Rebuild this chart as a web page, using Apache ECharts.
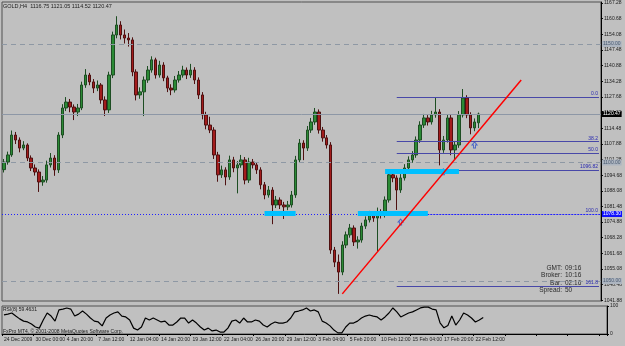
<!DOCTYPE html>
<html>
<head>
<meta charset="utf-8">
<script src="https://cdn.jsdelivr.net/npm/echarts@6/dist/echarts.min.js"></script>
<style>
html,body{margin:0;padding:0;background:#c0c0c0;}
#main{width:625px;height:346px;}
</style>
</head>
<body>
<div id="main"></div>
<script>
// GOLD H4 - candles, levels and RSI(8)
var tickLabels = ['24 Dec 2009','30 Dec 00:00','4 Jan 20:00','7 Jan 12:00','12 Jan 04:00','14 Jan 20:00',
    '19 Jan 12:00','22 Jan 04:00','26 Jan 20:00','29 Jan 12:00','3 Feb 04:00','5 Feb 20:00',
    '10 Feb 12:00','15 Feb 04:00','17 Feb 20:00','22 Feb 12:00'];
var priceTicks = [1041.88,1048.48,1055.08,1061.68,1068.28,1074.88,1081.48,1088.08,1094.68,1101.28,
    1107.88,1114.48,1121.08,1127.68,1134.28,1140.88,1147.48,1154.08,1160.68,1167.28];

var opens = [1097.0,1100.2,1103.2,1111.6,1109.5,1106.1,1107.4,1101.9,1097.7,1096.0,
    1091.8,1092.6,1099.0,1101.9,1096.9,1111.6,1123.0,1125.5,1123.4,1121.3,
    1123.0,1132.7,1136.9,1134.0,1131.4,1132.7,1126.4,1122.2,1136.9,1153.8,
    1158.0,1153.8,1152.5,1151.7,1138.2,1128.5,1129.8,1134.8,1139.0,1143.3,
    1136.9,1141.1,1135.7,1131.4,1130.6,1134.8,1136.9,1139.0,1136.9,1139.0,
    1134.8,1128.5,1120.1,1115.8,1113.7,1103.2,1094.8,1096.9,1093.9,1101.1,
    1097.7,1099.0,1101.1,1092.6,1100.2,1099.0,1096.9,1090.6,1086.3,1088.4,
    1082.1,1084.2,1082.1,1081.3,1082.1,1086.3,1101.1,1108.2,1106.1,1113.7,
    1117.1,1121.3,1113.7,1110.4,1107.4,1063.1,1058.0,1053.8,1065.2,1069.5,
    1072.4,1066.5,1067.3,1073.2,1075.8,1077.9,1076.6,1079.2,1077.9,1084.2,
    1094.8,1093.5,1088.4,1093.5,1097.7,1101.1,1103.2,1109.5,1115.8,1118.8,
    1117.1,1120.1,1121.3,1105.3,1109.5,1118.8,1105.3,1107.4,1120.1,1127.2,
    1120.1,1114.6,1116.75];
var closes = [1100.2,1103.2,1111.6,1109.5,1106.1,1107.4,1101.9,1097.7,1096.0,1091.8,
    1092.6,1099.0,1101.9,1096.9,1111.6,1123.0,1125.5,1123.4,1121.3,1123.0,
    1132.7,1136.9,1134.0,1131.4,1132.7,1126.4,1122.2,1136.9,1153.8,1158.0,
    1153.8,1152.5,1151.7,1138.2,1128.5,1129.8,1134.8,1139.0,1143.3,1136.9,
    1141.1,1135.7,1131.4,1130.6,1134.8,1136.9,1139.0,1136.9,1139.0,1134.8,
    1128.5,1120.1,1115.8,1113.7,1103.2,1094.8,1096.9,1093.9,1101.1,1097.7,
    1099.0,1101.1,1092.6,1100.2,1099.0,1096.9,1090.6,1086.3,1088.4,1082.1,
    1084.2,1082.1,1081.3,1082.1,1086.3,1101.1,1108.2,1106.1,1113.7,1117.1,
    1121.3,1113.7,1110.4,1107.4,1063.1,1058.0,1053.8,1065.2,1069.5,1072.4,
    1066.5,1067.3,1073.2,1075.8,1077.9,1076.6,1079.2,1077.9,1084.2,1094.8,
    1093.5,1088.4,1093.5,1097.7,1101.1,1103.2,1109.5,1115.8,1118.8,1117.1,
    1120.1,1121.3,1105.3,1109.5,1118.8,1105.3,1107.4,1120.1,1127.2,1120.1,
    1114.6,1117.1,1120.47];
var highs = [1101.5,1104.6,1113.5,1112.9,1110.6,1109.0,1108.1,1103.0,1099.2,1097.1,
    1094.3,1100.8,1104.0,1103.1,1112.8,1124.6,1127.6,1126.8,1124.5,1124.7,
    1134.1,1139.4,1137.8,1135.2,1134.6,1133.5,1127.9,1138.3,1155.2,1161.7,
    1159.6,1156.1,1154.6,1152.8,1139.3,1131.7,1136.3,1140.7,1144.8,1144.2,
    1142.9,1142.3,1136.6,1133.0,1136.5,1138.6,1140.8,1140.1,1141.6,1140.2,
    1135.9,1129.7,1121.4,1119.3,1114.9,1104.5,1098.7,1098.0,1102.9,1102.4,
    1100.6,1103.2,1102.3,1102.0,1101.5,1100.1,1098.0,1091.8,1090.1,1089.6,
    1085.9,1085.3,1083.4,1083.8,1088.0,1102.8,1109.9,1109.4,1115.4,1118.8,
    1123.0,1122.4,1115.0,1111.6,1108.6,1064.4,1061.2,1066.8,1070.9,1074.1,
    1073.5,1068.9,1074.6,1077.3,1079.6,1079.1,1081.0,1080.3,1085.7,1096.4,
    1096.0,1094.6,1095.1,1099.3,1102.6,1104.8,1111.0,1117.4,1120.5,1120.0,
    1121.8,1127.4,1122.5,1111.2,1120.3,1120.0,1109.1,1121.7,1131.0,1128.4,
    1121.2,1118.6,1121.05];
var lows = [1095.8,1099.1,1102.4,1107.8,1104.3,1105.2,1100.6,1096.4,1094.5,1087.6,
    1090.2,1091.5,1097.9,1094.4,1095.6,1110.3,1121.7,1121.2,1117.9,1119.6,
    1122.1,1131.5,1132.6,1129.3,1130.1,1124.8,1119.6,1120.9,1135.6,1152.4,
    1151.9,1150.2,1148.9,1136.4,1126.2,1126.9,1119.6,1133.6,1137.9,1135.4,
    1135.8,1134.3,1129.7,1128.4,1129.5,1133.7,1135.8,1135.2,1135.7,1133.1,
    1126.8,1118.2,1114.0,1112.4,1101.5,1091.9,1093.5,1090.4,1092.7,1095.9,
    1087.0,1097.8,1090.8,1091.4,1097.5,1095.2,1088.7,1084.5,1085.2,1074.0,
    1080.8,1080.4,1076.2,1079.9,1081.0,1085.1,1099.8,1101.0,1104.9,1112.5,
    1115.9,1112.2,1108.8,1105.9,1061.5,1055.9,1044.6,1052.5,1063.9,1068.3,
    1064.8,1063.7,1066.2,1072.0,1074.7,1075.0,1062.5,1076.4,1076.8,1083.1,
    1091.7,1080.0,1087.2,1092.4,1096.5,1099.9,1102.0,1108.3,1114.6,1115.6,
    1116.0,1118.9,1098.8,1104.1,1108.4,1103.1,1101.5,1106.2,1119.0,1118.7,
    1111.9,1113.2,1114.52];
var rsi = [68,71,75,64,54,46,43,36,25,21,
    50,75,64,46,86,89,93,89,64,71,
    82,71,57,46,43,29,57,68,75,79,
    64,61,50,21,14,25,57,50,57,50,
    43,46,32,32,43,57,57,39,50,39,
    25,14,21,11,14,7,7,21,46,50,
    39,57,43,43,50,46,32,25,36,43,
    39,39,43,57,79,82,86,93,82,86,
    79,46,39,29,14,4,4,25,39,39,
    46,57,64,68,64,61,50,61,75,93,
    79,61,68,75,79,86,93,96,96,89,
    86,40,22,30,64,32,50,75,68,57,
    43,50,59];

var roundLevels = [1150, 1100, 1050];
var bidPrice = 1120.47;
var fib100 = 1078.3;
var fibPrices = [1127.5, 1108.8, 1104.0, 1096.82, 1047.9];
var fibNames = ['0.0', '38.2', '50.0', '1096.82', '161.8'];
var fibFrom = 101;
var zoneFrom = [67, 91, 98];
var zoneTo = [75, 109, 117];
var zonePrice = [1078.7, 1078.7, 1096.5];
var trendFrom = [87, 1044.6];
var trendTo = [133.3, 1134.8];
var arrowIdx = [101.5, 112.7, 121.1];
var arrowPrice = [1074.9, 1096.1, 1107.4];

var barCount = 154;
var cats = [];
for (var i = 0; i < barCount; i++) cats.push(String(i));

var candles = [];
for (var i = 0; i < opens.length; i++) {
    candles.push([opens[i], closes[i], lows[i], highs[i]]);
}

var font = 'Liberation Sans';
var lines = [];
roundLevels.forEach(function (v) {
    lines.push({
        yAxis: v,
        lineStyle: {color: '#8e98a4', type: [5, 4], width: 1},
        label: {show: true, position: 'end', distance: 1, formatter: v.toFixed(2), fontSize: 5,
            fontFamily: font, color: '#4a5a70', backgroundColor: '#adb5c0', padding: [1, 1, 0, 1]}
    });
});
lines.push({
    yAxis: bidPrice,
    lineStyle: {color: '#8d97a6', type: 'solid', width: 1},
    label: {show: true, position: 'end', distance: 1, formatter: bidPrice.toFixed(2), fontSize: 5,
        fontFamily: font, color: '#fff', backgroundColor: '#000', padding: [1, 1, 0, 1]}
});
lines.push({
    yAxis: fib100,
    lineStyle: {color: '#2020ff', type: [1, 2], width: 1},
    label: {show: true, position: 'end', distance: 1, formatter: fib100.toFixed(2), fontSize: 5,
        fontFamily: font, color: '#fff', backgroundColor: '#1010ff', padding: [1, 1, 0, 1]}
});
lines.push([
    {coord: [fibFrom, fib100], lineStyle: {color: '#2020ff', type: [1, 2], width: 1},
        label: {show: true, position: 'insideEndTop', distance: 1, formatter: '100.0', fontSize: 5,
            fontFamily: font, color: '#2a2ab0'}},
    {coord: [barCount - 1, fib100]}
]);
fibPrices.forEach(function (v, k) {
    lines.push([
        {coord: [fibFrom, v], lineStyle: {color: '#4848a8', type: 'solid', width: 1},
            label: {show: true, position: 'insideEndTop', distance: 1, formatter: fibNames[k], fontSize: 5,
                fontFamily: font, color: '#2a2ab0'}},
        {coord: [barCount - 1, v]}
    ]);
});
zonePrice.forEach(function (v, k) {
    lines.push([
        {coord: [zoneFrom[k], v], lineStyle: {color: '#00c0ff', type: 'solid', width: 5}, label: {show: false}},
        {coord: [zoneTo[k], v]}
    ]);
});
lines.push([
    {coord: trendFrom, lineStyle: {color: '#ff0000', type: 'solid', width: 1.5}, label: {show: false}},
    {coord: trendTo}
]);

var arrows = arrowIdx.map(function (x, k) {
    return {coord: [x, arrowPrice[k]]};
});

var chart = echarts.init(document.getElementById('main'));
var option = {
    backgroundColor: '#c0c0c0',
    animation: false,
    textStyle: {fontFamily: font},
    grid: [
        {left: 2, right: 18, top: 2, height: 299, show: true, borderColor: '#505050', borderWidth: 1},
        {left: 2, right: 18, top: 306, height: 28, show: true, borderColor: '#505050', borderWidth: 1}
    ],
    xAxis: [
        {type: 'category', gridIndex: 0, data: cats, boundaryGap: true,
            axisLine: {show: false}, axisTick: {show: false}, axisLabel: {show: false}, splitLine: {show: false}},
        {type: 'category', gridIndex: 1, data: cats, boundaryGap: true,
            axisLine: {show: true, lineStyle: {color: '#000'}},
            axisTick: {show: true, interval: 7, length: 2, lineStyle: {color: '#000'}},
            axisLabel: {show: true, interval: 7, margin: 3, align: 'left', fontSize: 5, color: '#202020',
                formatter: function (v, idx) {
                    var k = idx / 8;
                    return k < tickLabels.length ? tickLabels[k] : '';
                }},
            splitLine: {show: false}}
    ],
    yAxis: [
        {type: 'value', gridIndex: 0, position: 'right', min: 1041.6, max: 1167.7,
            axisLine: {show: true, lineStyle: {color: '#000'}},
            axisTick: {show: true, length: 2, customValues: priceTicks, lineStyle: {color: '#000'}},
            axisLabel: {show: true, margin: 3, fontSize: 5, color: '#202020', customValues: priceTicks,
                formatter: function (v) { return v.toFixed(2); }},
            splitLine: {show: false}},
        {type: 'value', gridIndex: 1, position: 'right', min: 0, max: 100, interval: 100,
            axisLine: {show: true, lineStyle: {color: '#000'}},
            axisTick: {show: true, length: 2, lineStyle: {color: '#000'}},
            axisLabel: {show: true, margin: 3, fontSize: 5, color: '#202020'},
            splitLine: {show: false}}
    ],
    graphic: [
        {type: 'text', left: 3, top: 3, style: {text: 'GOLD,H4  1116.75 1121.05 1114.52 1120.47', fontSize: 5.5, fontFamily: font, fill: '#202020'}},
        {type: 'text', left: 3, top: 307, z: 10, style: {text: 'RSI(8) 59.4631', fontSize: 5, fontFamily: font, fill: '#202020'}},
        {type: 'text', left: 3, top: 329, z: 10, style: {text: 'FxPro MT4, © 2001-2008 MetaQuotes Software Corp.', fontSize: 5, fontFamily: font, fill: '#202020'}},
        {type: 'text', right: 63, top: 265, style: {text: 'GMT:', fontSize: 6.5, fontFamily: font, fill: '#2a2a2a', align: 'right'}},
        {type: 'text', right: 63, top: 272, style: {text: 'Broker:', fontSize: 6.5, fontFamily: font, fill: '#2a2a2a', align: 'right'}},
        {type: 'text', right: 63, top: 280, style: {text: 'Bar:', fontSize: 6.5, fontFamily: font, fill: '#2a2a2a', align: 'right'}},
        {type: 'text', right: 63, top: 287, style: {text: 'Spread:', fontSize: 6.5, fontFamily: font, fill: '#2a2a2a', align: 'right'}},
        {type: 'text', left: 565, top: 265, style: {text: '09:16', fontSize: 6.5, fontFamily: font, fill: '#2a2a2a'}},
        {type: 'text', left: 565, top: 272, style: {text: '10:16', fontSize: 6.5, fontFamily: font, fill: '#2a2a2a'}},
        {type: 'text', left: 565, top: 280, style: {text: '02:16', fontSize: 6.5, fontFamily: font, fill: '#2a2a2a'}},
        {type: 'text', left: 565, top: 287, style: {text: '50', fontSize: 6.5, fontFamily: font, fill: '#2a2a2a'}}
    ],
    series: [
        {
            name: 'GOLD,H4',
            type: 'candlestick',
            xAxisIndex: 0,
            yAxisIndex: 0,
            barWidth: 3,
            data: candles,
            itemStyle: {
                color: '#2b8a35',
                color0: '#a31c1c',
                borderColor: '#1d4d22',
                borderColor0: '#4e1010',
                borderWidth: 1
            },
            markLine: {
                silent: true,
                symbol: ['none', 'none'],
                z: 10,
                data: lines
            },
            markPoint: {
                silent: true,
                symbol: 'path://M5,0 L10,5 L7,5 L7,10 L3,10 L3,5 L0,5 Z',
                symbolSize: [5, 6],
                itemStyle: {color: 'rgba(0,0,0,0)', borderColor: '#4a66c8', borderWidth: 1},
                label: {show: false},
                data: arrows
            }
        },
        {
            name: 'RSI(8)',
            type: 'line',
            xAxisIndex: 1,
            yAxisIndex: 1,
            data: rsi,
            showSymbol: false,
            lineStyle: {color: '#000', width: 1.2}
        }
    ]
};
chart.setOption(option);
</script>
</body>
</html>
